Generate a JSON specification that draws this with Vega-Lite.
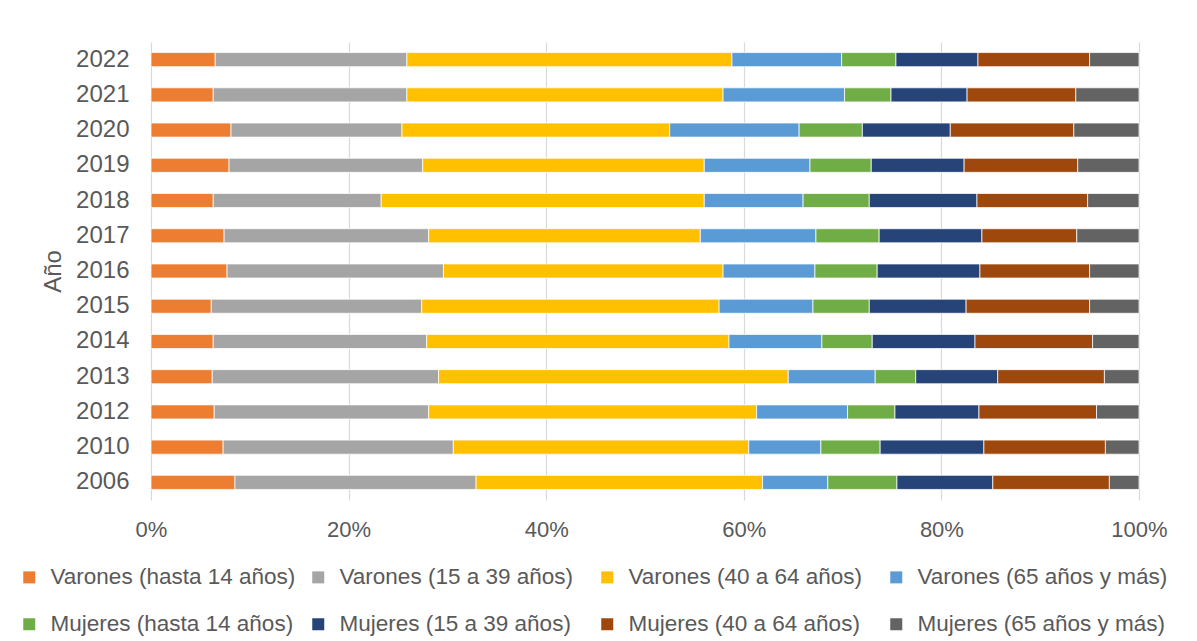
{
  "$schema": "https://vega.github.io/schema/vega-lite/v6.json",
  "width": 988,
  "height": 458,
  "autosize": "none",
  "padding": {"left": 151, "top": 42, "right": 58, "bottom": 141},
  "background": "white",
  "config": {
    "view": {"stroke": null},
    "font": "Liberation Sans"
  },
  "data": {
    "values": [
      {"year": "2022", "grupo": "Varones (hasta 14 años)", "pct": 6.5},
      {"year": "2022", "grupo": "Varones (15 a 39 años)", "pct": 19.4},
      {"year": "2022", "grupo": "Varones (40 a 64 años)", "pct": 32.9},
      {"year": "2022", "grupo": "Varones (65 años y más)", "pct": 11.1},
      {"year": "2022", "grupo": "Mujeres (hasta 14 años)", "pct": 5.5},
      {"year": "2022", "grupo": "Mujeres (15 a 39 años)", "pct": 8.3},
      {"year": "2022", "grupo": "Mujeres (40 a 64 años)", "pct": 11.3},
      {"year": "2022", "grupo": "Mujeres (65 años y más)", "pct": 5.0},
      {"year": "2021", "grupo": "Varones (hasta 14 años)", "pct": 6.3},
      {"year": "2021", "grupo": "Varones (15 a 39 años)", "pct": 19.6},
      {"year": "2021", "grupo": "Varones (40 a 64 años)", "pct": 32.0},
      {"year": "2021", "grupo": "Varones (65 años y más)", "pct": 12.3},
      {"year": "2021", "grupo": "Mujeres (hasta 14 años)", "pct": 4.7},
      {"year": "2021", "grupo": "Mujeres (15 a 39 años)", "pct": 7.7},
      {"year": "2021", "grupo": "Mujeres (40 a 64 años)", "pct": 11.0},
      {"year": "2021", "grupo": "Mujeres (65 años y más)", "pct": 6.4},
      {"year": "2020", "grupo": "Varones (hasta 14 años)", "pct": 8.1},
      {"year": "2020", "grupo": "Varones (15 a 39 años)", "pct": 17.3},
      {"year": "2020", "grupo": "Varones (40 a 64 años)", "pct": 27.1},
      {"year": "2020", "grupo": "Varones (65 años y más)", "pct": 13.1},
      {"year": "2020", "grupo": "Mujeres (hasta 14 años)", "pct": 6.4},
      {"year": "2020", "grupo": "Mujeres (15 a 39 años)", "pct": 8.9},
      {"year": "2020", "grupo": "Mujeres (40 a 64 años)", "pct": 12.5},
      {"year": "2020", "grupo": "Mujeres (65 años y más)", "pct": 6.6},
      {"year": "2019", "grupo": "Varones (hasta 14 años)", "pct": 7.9},
      {"year": "2019", "grupo": "Varones (15 a 39 años)", "pct": 19.6},
      {"year": "2019", "grupo": "Varones (40 a 64 años)", "pct": 28.5},
      {"year": "2019", "grupo": "Varones (65 años y más)", "pct": 10.7},
      {"year": "2019", "grupo": "Mujeres (hasta 14 años)", "pct": 6.2},
      {"year": "2019", "grupo": "Mujeres (15 a 39 años)", "pct": 9.4},
      {"year": "2019", "grupo": "Mujeres (40 a 64 años)", "pct": 11.5},
      {"year": "2019", "grupo": "Mujeres (65 años y más)", "pct": 6.2},
      {"year": "2018", "grupo": "Varones (hasta 14 años)", "pct": 6.3},
      {"year": "2018", "grupo": "Varones (15 a 39 años)", "pct": 17.0},
      {"year": "2018", "grupo": "Varones (40 a 64 años)", "pct": 32.7},
      {"year": "2018", "grupo": "Varones (65 años y más)", "pct": 10.0},
      {"year": "2018", "grupo": "Mujeres (hasta 14 años)", "pct": 6.7},
      {"year": "2018", "grupo": "Mujeres (15 a 39 años)", "pct": 10.9},
      {"year": "2018", "grupo": "Mujeres (40 a 64 años)", "pct": 11.2},
      {"year": "2018", "grupo": "Mujeres (65 años y más)", "pct": 5.2},
      {"year": "2017", "grupo": "Varones (hasta 14 años)", "pct": 7.4},
      {"year": "2017", "grupo": "Varones (15 a 39 años)", "pct": 20.7},
      {"year": "2017", "grupo": "Varones (40 a 64 años)", "pct": 27.5},
      {"year": "2017", "grupo": "Varones (65 años y más)", "pct": 11.7},
      {"year": "2017", "grupo": "Mujeres (hasta 14 años)", "pct": 6.4},
      {"year": "2017", "grupo": "Mujeres (15 a 39 años)", "pct": 10.4},
      {"year": "2017", "grupo": "Mujeres (40 a 64 años)", "pct": 9.6},
      {"year": "2017", "grupo": "Mujeres (65 años y más)", "pct": 6.3},
      {"year": "2016", "grupo": "Varones (hasta 14 años)", "pct": 7.7},
      {"year": "2016", "grupo": "Varones (15 a 39 años)", "pct": 21.9},
      {"year": "2016", "grupo": "Varones (40 a 64 años)", "pct": 28.3},
      {"year": "2016", "grupo": "Varones (65 años y más)", "pct": 9.3},
      {"year": "2016", "grupo": "Mujeres (hasta 14 años)", "pct": 6.3},
      {"year": "2016", "grupo": "Mujeres (15 a 39 años)", "pct": 10.4},
      {"year": "2016", "grupo": "Mujeres (40 a 64 años)", "pct": 11.1},
      {"year": "2016", "grupo": "Mujeres (65 años y más)", "pct": 5.0},
      {"year": "2015", "grupo": "Varones (hasta 14 años)", "pct": 6.1},
      {"year": "2015", "grupo": "Varones (15 a 39 años)", "pct": 21.3},
      {"year": "2015", "grupo": "Varones (40 a 64 años)", "pct": 30.1},
      {"year": "2015", "grupo": "Varones (65 años y más)", "pct": 9.5},
      {"year": "2015", "grupo": "Mujeres (hasta 14 años)", "pct": 5.7},
      {"year": "2015", "grupo": "Mujeres (15 a 39 años)", "pct": 9.8},
      {"year": "2015", "grupo": "Mujeres (40 a 64 años)", "pct": 12.5},
      {"year": "2015", "grupo": "Mujeres (65 años y más)", "pct": 5.0},
      {"year": "2014", "grupo": "Varones (hasta 14 años)", "pct": 6.3},
      {"year": "2014", "grupo": "Varones (15 a 39 años)", "pct": 21.6},
      {"year": "2014", "grupo": "Varones (40 a 64 años)", "pct": 30.6},
      {"year": "2014", "grupo": "Varones (65 años y más)", "pct": 9.4},
      {"year": "2014", "grupo": "Mujeres (hasta 14 años)", "pct": 5.1},
      {"year": "2014", "grupo": "Mujeres (15 a 39 años)", "pct": 10.4},
      {"year": "2014", "grupo": "Mujeres (40 a 64 años)", "pct": 11.9},
      {"year": "2014", "grupo": "Mujeres (65 años y más)", "pct": 4.7},
      {"year": "2013", "grupo": "Varones (hasta 14 años)", "pct": 6.2},
      {"year": "2013", "grupo": "Varones (15 a 39 años)", "pct": 22.9},
      {"year": "2013", "grupo": "Varones (40 a 64 años)", "pct": 35.4},
      {"year": "2013", "grupo": "Varones (65 años y más)", "pct": 8.8},
      {"year": "2013", "grupo": "Mujeres (hasta 14 años)", "pct": 4.1},
      {"year": "2013", "grupo": "Mujeres (15 a 39 años)", "pct": 8.3},
      {"year": "2013", "grupo": "Mujeres (40 a 64 años)", "pct": 10.8},
      {"year": "2013", "grupo": "Mujeres (65 años y más)", "pct": 3.5},
      {"year": "2012", "grupo": "Varones (hasta 14 años)", "pct": 6.4},
      {"year": "2012", "grupo": "Varones (15 a 39 años)", "pct": 21.7},
      {"year": "2012", "grupo": "Varones (40 a 64 años)", "pct": 33.2},
      {"year": "2012", "grupo": "Varones (65 años y más)", "pct": 9.2},
      {"year": "2012", "grupo": "Mujeres (hasta 14 años)", "pct": 4.8},
      {"year": "2012", "grupo": "Mujeres (15 a 39 años)", "pct": 8.5},
      {"year": "2012", "grupo": "Mujeres (40 a 64 años)", "pct": 11.9},
      {"year": "2012", "grupo": "Mujeres (65 años y más)", "pct": 4.3},
      {"year": "2010", "grupo": "Varones (hasta 14 años)", "pct": 7.3},
      {"year": "2010", "grupo": "Varones (15 a 39 años)", "pct": 23.3},
      {"year": "2010", "grupo": "Varones (40 a 64 años)", "pct": 29.9},
      {"year": "2010", "grupo": "Varones (65 años y más)", "pct": 7.3},
      {"year": "2010", "grupo": "Mujeres (hasta 14 años)", "pct": 6.0},
      {"year": "2010", "grupo": "Mujeres (15 a 39 años)", "pct": 10.5},
      {"year": "2010", "grupo": "Mujeres (40 a 64 años)", "pct": 12.3},
      {"year": "2010", "grupo": "Mujeres (65 años y más)", "pct": 3.4},
      {"year": "2006", "grupo": "Varones (hasta 14 años)", "pct": 8.5},
      {"year": "2006", "grupo": "Varones (15 a 39 años)", "pct": 24.4},
      {"year": "2006", "grupo": "Varones (40 a 64 años)", "pct": 29.0},
      {"year": "2006", "grupo": "Varones (65 años y más)", "pct": 6.6},
      {"year": "2006", "grupo": "Mujeres (hasta 14 años)", "pct": 7.0},
      {"year": "2006", "grupo": "Mujeres (15 a 39 años)", "pct": 9.7},
      {"year": "2006", "grupo": "Mujeres (40 a 64 años)", "pct": 11.8},
      {"year": "2006", "grupo": "Mujeres (65 años y más)", "pct": 3.0}
    ]
  },
  "transform": [
    {"calculate": "indexof(['Varones (hasta 14 años)','Varones (15 a 39 años)','Varones (40 a 64 años)','Varones (65 años y más)','Mujeres (hasta 14 años)','Mujeres (15 a 39 años)','Mujeres (40 a 64 años)','Mujeres (65 años y más)'], datum.grupo)", "as": "orden"}
  ],
  "mark": {"type": "bar", "stroke": "white", "strokeWidth": 0.75},
  "encoding": {
    "y": {
      "field": "year",
      "type": "ordinal",
      "sort": ["2022", "2021", "2020", "2019", "2018", "2017", "2016", "2015", "2014", "2013", "2012", "2010", "2006"],
      "scale": {"paddingInner": 0.6, "paddingOuter": 0.3},
      "axis": {
        "title": "Año",
        "titleFont": "Liberation Sans",
        "titleFontSize": 24,
        "titleFontWeight": "normal",
        "titleColor": "#595959",
        "titlePadding": 10,
        "labelFont": "Liberation Sans",
        "labelFontSize": 24,
        "labelColor": "#595959",
        "labelPadding": 22,
        "ticks": false,
        "domain": false,
        "grid": false
      }
    },
    "x": {
      "field": "pct",
      "type": "quantitative",
      "stack": "normalize",
      "scale": {"domain": [0, 1]},
      "axis": {
        "title": null,
        "values": [0, 0.2, 0.4, 0.6, 0.8, 1],
        "format": ".0%",
        "labelFont": "Liberation Sans",
        "labelFontSize": 22,
        "labelColor": "#595959",
        "labelPadding": 19,
        "labelFlush": false,
        "ticks": false,
        "domain": false,
        "grid": true,
        "gridColor": "#D9D9D9",
        "gridWidth": 1.2
      }
    },
    "color": {
      "field": "grupo",
      "type": "nominal",
      "scale": {
        "domain": ["Varones (hasta 14 años)", "Varones (15 a 39 años)", "Varones (40 a 64 años)", "Varones (65 años y más)", "Mujeres (hasta 14 años)", "Mujeres (15 a 39 años)", "Mujeres (40 a 64 años)", "Mujeres (65 años y más)"],
        "range": ["#ED7D31", "#A5A5A5", "#FFC000", "#5B9BD5", "#70AD47", "#264478", "#9E480E", "#636363"]
      },
      "legend": {
        "title": null,
        "orient": "none",
        "legendX": -133,
        "legendY": 524,
        "direction": "horizontal",
        "columns": 4,
        "gridAlign": "all",
        "columnPadding": 6,
        "rowPadding": 24,
        "symbolType": "square",
        "symbolSize": 144,
        "symbolStrokeWidth": 0,
        "labelOffset": 10,
        "labelFont": "Liberation Sans",
        "labelFontSize": 22.5,
        "labelColor": "#595959",
        "labelLimit": 400
      }
    },
    "order": {"field": "orden", "type": "quantitative"}
  }
}
